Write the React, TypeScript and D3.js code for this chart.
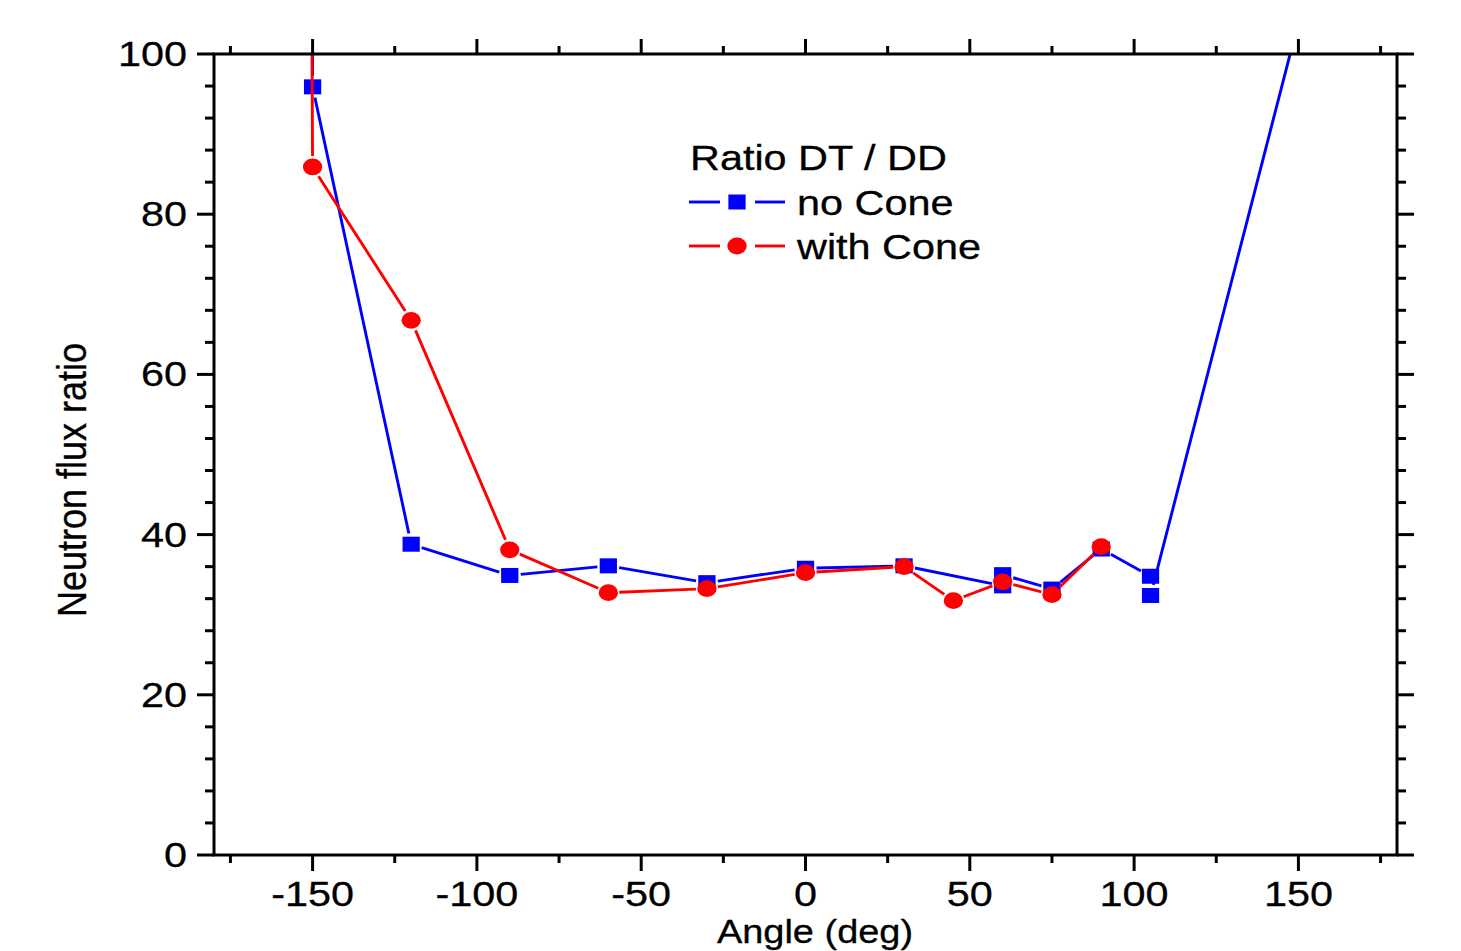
import React from "react";
import * as d3 from "d3";

const blueAngle = [-150, -150, -120, -90, -60, -30, 0, 30, 60, 60, 75, 90, 105, 105, 150];
const blueRatio = [120, 95.9, 38.8, 34.9, 36.1, 34.0, 35.8, 36.1, 33.6, 35.0, 33.2, 38.2, 34.8, 32.4, 104];
const redAngle = [-150.5, -150, -120, -90, -60, -30, 0, 30, 45, 60, 75, 90];
const redRatio = [130, 85.9, 66.75, 38.1, 32.75, 33.25, 35.25, 36.0, 31.75, 34.1, 32.5, 38.5];

const xMajor = [-150, -100, -50, 0, 50, 100, 150];
const xMinor = [-175, -125, -75, -25, 25, 75, 125, 175];
const yMajor = [0, 20, 40, 60, 80, 100];
const yMinor = d3.range(4, 100, 4).filter((v) => v % 20 !== 0);

const W = 1461, H = 951;
const L = 214, R = 1397, T = 54, B = 855;
const SX = 1.15;
const FONT = "'Liberation Sans', Arial, sans-serif";

const x = d3.scaleLinear().domain([-180, 180]).range([L, R]);
const y = d3.scaleLinear().domain([0, 100]).range([B, T]);

function gapPath(ax: number[], ay: number[], gap: number) {
  const p = d3.path();
  for (let i = 0; i < ax.length - 1; i++) {
    const x0 = x(ax[i]), y0 = y(ay[i]), x1 = x(ax[i + 1]), y1 = y(ay[i + 1]);
    const dx = x1 - x0, dy = y1 - y0;
    const len = Math.hypot(dx, dy);
    if (len <= 2 * gap) continue;
    const ux = dx / len, uy = dy / len;
    p.moveTo(x0 + ux * gap, y0 + uy * gap);
    p.lineTo(x1 - ux * gap, y1 - uy * gap);
  }
  return p.toString();
}

const Txt = ({ tx, ty, anchor = "start", rot = 0, size = 36, children }: any) => (
  <text
    transform={`translate(${tx},${ty}) scale(${SX},1)${rot ? ` rotate(${rot})` : ""}`}
    textAnchor={anchor}
    fontFamily={FONT}
    fontSize={size}
    fill="#000"
    stroke="#000"
    strokeWidth={0.3}
  >
    {children}
  </text>
);

export default function App() {
  const sq = 15;
  const lw = 2.9;
  return (
    <svg width={W} height={H} style={{ position: "absolute", left: 0, top: 0, background: "#fff" }}>
      <defs>
        <clipPath id="plot">
          <rect x={L} y={T} width={R - L} height={B - T} />
        </clipPath>
      </defs>
      <rect x={0} y={0} width={W} height={H} fill="#fff" />
      <g clipPath="url(#plot)">
        <path d={gapPath(blueAngle, blueRatio, 11)} stroke="#0000ff" strokeWidth={lw} fill="none" />
        {blueAngle.map((a, i) => (
          <rect key={"b" + i} x={x(a) - (sq * SX) / 2} y={y(blueRatio[i]) - sq / 2} width={sq * SX} height={sq} fill="#0000ff" />
        ))}
        <path d={gapPath(redAngle, redRatio, 11)} stroke="#ff0000" strokeWidth={lw} fill="none" />
        {redAngle.map((a, i) => (
          <ellipse key={"r" + i} cx={x(a)} cy={y(redRatio[i])} rx={8.4 * SX} ry={8.4} fill="#ff0000" />
        ))}
      </g>
      {/* frame */}
      <rect x={L} y={T} width={R - L} height={B - T} fill="none" stroke="#000" strokeWidth={3} />
      {/* x ticks bottom & top */}
      {xMajor.map((v) => (
        <g key={"xm" + v}>
          <line x1={x(v)} x2={x(v)} y1={B} y2={B + 16} stroke="#000" strokeWidth={3} />
          <line x1={x(v)} x2={x(v)} y1={T} y2={T - 15} stroke="#000" strokeWidth={3} />
          <Txt tx={x(v)} ty={906} anchor="middle">{v}</Txt>
        </g>
      ))}
      {xMinor.map((v) => (
        <g key={"xn" + v}>
          <line x1={x(v)} x2={x(v)} y1={B} y2={B + 8} stroke="#000" strokeWidth={3} />
          <line x1={x(v)} x2={x(v)} y1={T} y2={T - 8} stroke="#000" strokeWidth={3} />
        </g>
      ))}
      {/* y ticks left & right */}
      {yMajor.map((v) => (
        <g key={"ym" + v}>
          <line x1={L - 17} x2={L} y1={y(v)} y2={y(v)} stroke="#000" strokeWidth={3} />
          <line x1={R} x2={R + 17} y1={y(v)} y2={y(v)} stroke="#000" strokeWidth={3} />
          <Txt tx={187} ty={y(v) + 12} anchor="end">{v}</Txt>
        </g>
      ))}
      {yMinor.map((v) => (
        <g key={"yn" + v}>
          <line x1={L - 9} x2={L} y1={y(v)} y2={y(v)} stroke="#000" strokeWidth={3} />
          <line x1={R} x2={R + 9} y1={y(v)} y2={y(v)} stroke="#000" strokeWidth={3} />
        </g>
      ))}
      {/* axis titles */}
      <Txt tx={86} ty={480} anchor="middle" rot={-90}>Neutron flux ratio</Txt>
      <Txt tx={815} ty={943} anchor="middle" size={33}>Angle (deg)</Txt>
      {/* legend */}
      <Txt tx={690} ty={170}>Ratio DT / DD</Txt>
      <line x1={689} x2={720} y1={202} y2={202} stroke="#0000ff" strokeWidth={lw} />
      <line x1={755} x2={785} y1={202} y2={202} stroke="#0000ff" strokeWidth={lw} />
      <rect x={737 - (sq * SX) / 2} y={202 - sq / 2} width={sq * SX} height={sq} fill="#0000ff" />
      <Txt tx={797} ty={215}>no Cone</Txt>
      <line x1={689} x2={720} y1={246} y2={246} stroke="#ff0000" strokeWidth={lw} />
      <line x1={755} x2={785} y1={246} y2={246} stroke="#ff0000" strokeWidth={lw} />
      <ellipse cx={737} cy={246} rx={8.4 * SX} ry={8.4} fill="#ff0000" />
      <Txt tx={797} ty={259}>with Cone</Txt>
    </svg>
  );
}
